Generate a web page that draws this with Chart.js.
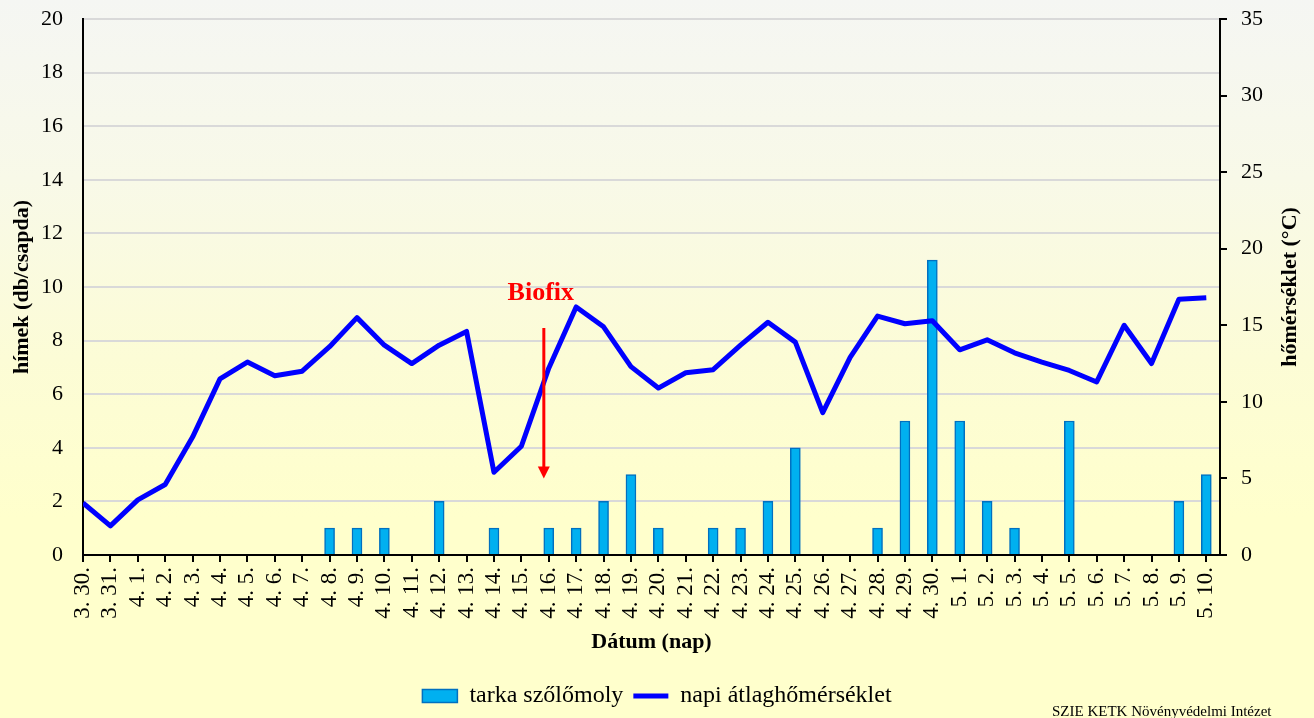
<!DOCTYPE html>
<html>
<head>
<meta charset="utf-8">
<script src="https://cdn.jsdelivr.net/npm/chart.js@4"></script>
<style>
  html, body { margin: 0; padding: 0; }
  #wrap {
    position: relative;
    width: 1314px;
    height: 718px;
    overflow: hidden;
    background: linear-gradient(to bottom, #f5f6f3 0%, #f8f9e8 25%, #fcfcd6 50%, #ffffcc 72%, #ffffcc 100%);
  }
  #credit {
    position: absolute;
    left: 1052px;
    top: 703px;
    font: 15px "Liberation Serif", "Times New Roman", serif;
    color: #000;
    white-space: nowrap;
  }
</style>
</head>
<body>
<div id="wrap">
  <canvas id="chart"></canvas>
  <div id="credit">SZIE KETK Növényvédelmi Intézet</div>
</div>
<script>
// dates on the x axis
const labels = [
  "3. 30.", "3. 31.",
  "4. 1.", "4. 2.", "4. 3.", "4. 4.", "4. 5.", "4. 6.", "4. 7.", "4. 8.", "4. 9.", "4. 10.",
  "4. 11.", "4. 12.", "4. 13.", "4. 14.", "4. 15.", "4. 16.", "4. 17.", "4. 18.", "4. 19.", "4. 20.",
  "4. 21.", "4. 22.", "4. 23.", "4. 24.", "4. 25.", "4. 26.", "4. 27.", "4. 28.", "4. 29.", "4. 30.",
  "5. 1.", "5. 2.", "5. 3.", "5. 4.", "5. 5.", "5. 6.", "5. 7.", "5. 8.", "5. 9.", "5. 10."
];

// males per trap (left axis)
const moths = [
  0, 0,
  0, 0, 0, 0, 0, 0, 0, 1, 1, 1,
  0, 2, 0, 1, 0, 1, 1, 2, 3, 1,
  0, 1, 1, 2, 4, 0, 0, 1, 5, 11,
  5, 2, 1, 0, 5, 0, 0, 0, 2, 3
];

// daily mean temperature, °C (right axis)
const temps = [
  3.4, 1.9,
  3.6, 4.6, 7.7, 11.5, 12.6, 11.7, 12.0, 13.6, 15.5, 13.7,
  12.5, 13.7, 14.6, 5.4, 7.1, 12.2, 16.2, 14.9, 12.3, 10.9,
  11.9, 12.1, 13.7, 15.2, 13.9, 9.3, 12.9, 15.6, 15.1, 15.3,
  13.4, 14.05, 13.2, 12.6, 12.05, 11.3, 15.0, 12.5, 16.7, 16.8
];

const barName = "tarka szőlőmoly";
const lineName = "napi átlaghőmérséklet";
const biofixDay = "4. 16.";

const serif = '"Liberation Serif", "Times New Roman", serif';
Chart.defaults.font.family = serif;
Chart.defaults.color = "#000";

const biofixPlugin = {
  id: "biofix",
  afterDatasetsDraw(chart) {
    const ctx = chart.ctx;
    const x = chart.scales.x.getPixelForValue(labels.indexOf(biofixDay) - 0.18);
    const yText = chart.scales.y.getPixelForValue(9.75);
    const yTop = chart.scales.y.getPixelForValue(8.47);
    const yTip = chart.scales.y.getPixelForValue(2.85);

    ctx.save();
    ctx.fillStyle = "#ff0000";
    ctx.strokeStyle = "#ff0000";
    ctx.font = "bold 26px " + serif;
    ctx.textAlign = "center";
    ctx.textBaseline = "middle";
    ctx.fillText("Biofix", x - 3, yText);

    ctx.lineWidth = 3;
    ctx.beginPath();
    ctx.moveTo(x, yTop);
    ctx.lineTo(x, yTip - 10);
    ctx.stroke();

    ctx.beginPath();
    ctx.moveTo(x - 6, yTip - 12);
    ctx.lineTo(x + 6, yTip - 12);
    ctx.lineTo(x, yTip);
    ctx.closePath();
    ctx.fill();
    ctx.restore();
  }
};

// right axis title reads bottom-to-top like the left one
const rightTitlePlugin = {
  id: "rightTitle",
  afterDraw(chart) {
    const ctx = chart.ctx;
    const area = chart.chartArea;
    ctx.save();
    ctx.translate(1290, (area.top + area.bottom) / 2);
    ctx.rotate(-Math.PI / 2);
    ctx.font = "bold 22px " + serif;
    ctx.fillStyle = "#000";
    ctx.textAlign = "center";
    ctx.textBaseline = "middle";
    ctx.fillText("hőmérséklet (°C)", 0, 0);
    ctx.restore();
  }
};

const chart = new Chart(document.getElementById("chart"), {
  type: "bar",
  data: {
    datasets: [
      {
        type: "bar",
        label: barName,
        data: moths.map((v, i) => ({ x: i, y: v })),
        backgroundColor: "#00b0f0",
        borderColor: "#0070c0",
        borderWidth: 1.5,
        barThickness: 10,
        yAxisID: "y",
        order: 2
      },
      {
        type: "line",
        label: lineName,
        data: temps.map((v, i) => ({ x: i, y: v })),
        borderColor: "#0000ff",
        backgroundColor: "#0000ff",
        borderWidth: 5,
        borderJoinStyle: "round",
        pointRadius: 0,
        tension: 0,
        yAxisID: "y1",
        order: 1
      }
    ]
  },
  options: {
    responsive: true,
    maintainAspectRatio: false,
    animation: false,
    layout: { padding: { top: 19, left: 0, right: 0, bottom: 0 } },
    plugins: {
      tooltip: { enabled: false },
      legend: {
        position: "bottom",
        labels: {
          font: { size: 24 },
          usePointStyle: true,
          pointStyleWidth: 35,
          boxHeight: 13,
          padding: 10,
          sort: (a, b) => a.datasetIndex - b.datasetIndex,
          generateLabels: function (c) {
            const items = Chart.defaults.plugins.legend.labels.generateLabels(c);
            items.forEach(function (item) {
              item.pointStyle = item.datasetIndex === 0 ? "rect" : "line";
            });
            return items;
          }
        }
      }
    },
    scales: {
      x: {
        type: "linear",
        min: 0,
        max: 41.5,
        offset: false,
        grid: { offset: false, drawOnChartArea: false, drawTicks: true, tickLength: 7, color: "#000", lineWidth: 2 },
        border: { color: "#000", width: 2 },
        afterBuildTicks: function (scale) {
          scale.ticks = labels.map((_, i) => ({ value: i }));
        },
        ticks: {
          autoSkip: false,
          minRotation: 90,
          maxRotation: 90,
          padding: 5,
          font: { size: 23 },
          callback: function (value) {
            return labels[value] !== undefined ? labels[value] : "";
          }
        },
        title: {
          display: true,
          text: "Dátum (nap)",
          font: { size: 22, weight: "bold" },
          padding: { top: 0, bottom: 18 }
        },
        afterFit: function (scale) { scale.height = 119; }
      },
      y: {
        position: "left",
        min: 0,
        max: 20,
        grid: { color: "#d9d9d9", lineWidth: 2, drawTicks: false },
        border: { color: "#000", width: 2 },
        ticks: { stepSize: 2, padding: 20, font: { size: 22 } },
        title: {
          display: true,
          text: "hímek (db/csapda)",
          font: { size: 22, weight: "bold" },
          padding: { top: 9, bottom: 0 }
        },
        afterFit: function (scale) {
          scale.width = 83;
          scale.paddingTop = 0;
          scale.paddingBottom = 0;
        }
      },
      y1: {
        position: "right",
        min: 0,
        max: 35,
        grid: { drawOnChartArea: false, drawTicks: true, tickLength: 7, color: "#000", lineWidth: 2 },
        border: { color: "#000", width: 2 },
        ticks: { stepSize: 5, padding: 14, font: { size: 22 } },
        afterFit: function (scale) {
          scale.width = 94;
          scale.paddingTop = 0;
          scale.paddingBottom = 0;
        }
      }
    }
  },
  plugins: [biofixPlugin, rightTitlePlugin]
});
</script>
</body>
</html>
